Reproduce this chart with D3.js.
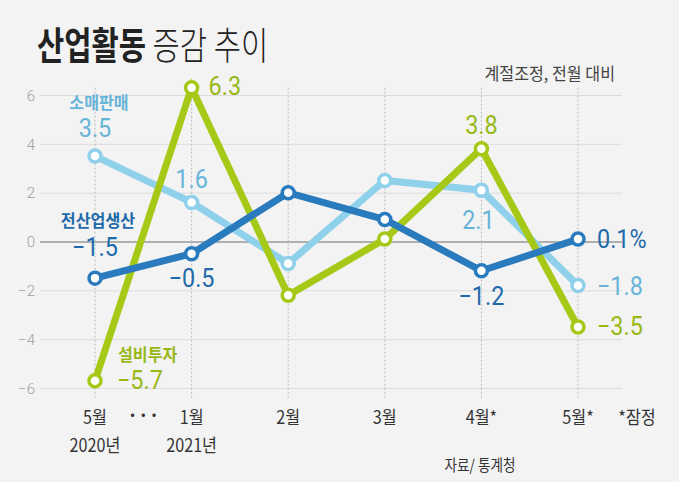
<!DOCTYPE html>
<html><head><meta charset="utf-8">
<script src="https://cdn.jsdelivr.net/npm/d3@7"></script>
<style>
body{margin:0;background:#f3f3f3;}
svg{display:block;font-family:"Noto Sans CJK KR","Noto Sans",sans-serif;}
</style></head><body>
<svg id="c" width="679" height="482"></svg>
<script>
const categories = ["5월|2020년","1월|2021년","2월","3월","4월*","5월*"];
const production = [-1.5, -0.5, 2.0, 0.9, -1.2, 0.1];
const retail = [3.5, 1.6, -0.9, 2.5, 2.1, -1.8];
const investment = [-5.7, 6.3, -2.2, 0.1, 3.8, -3.5];
const yTicks = [-6,-4,-2,0,2,4,6];

const svg = d3.select("#c");
svg.append("rect").attr("width",679).attr("height",482).attr("fill","#f3f3f3");

const x = d3.scalePoint().domain(d3.range(categories.length)).range([95,578]);
const y = d3.scaleLinear().domain([-6,6]).range([388,95]);

function txt(str,xx,yy,o){
  o=o||{};
  const sx=o.sx||1;
  const g=svg.append("g").attr("transform",`translate(${xx},${yy}) scale(${sx},1)`);
  const t=g.append("text").attr("x",0).attr("y",0).attr("text-anchor",o.anchor||"middle")
    .attr("font-size",o.size||16).attr("font-weight",o.weight||"400").attr("fill",o.fill||"#333")
    .attr("dy",o.dy||"0.35em");
  if(o.family) t.attr("font-family",o.family);
  t.text(str);
  return t;
}

// title
const tg = svg.append("g").attr("transform","translate(37,59) scale(0.78,1)");
const t = tg.append("text").attr("font-size",38).attr("fill","#222");
t.append("tspan").attr("font-weight","bold").text("산업활동");
t.append("tspan").attr("font-weight","300").text(" 증감 추이");
txt("계절조정, 전월 대비",615,74,{anchor:"end",size:17,sx:0.95,fill:"#444"});

// grid
const yAxis = svg.append("g").attr("transform","translate(40,0)")
  .call(d3.axisRight(y).tickValues(yTicks).tickSize(582).tickFormat(d=>String(d).replace("-","−")));
yAxis.select(".domain").remove();
yAxis.selectAll(".tick line").attr("stroke",d=>d===0?"#999":"#dcdcdc").attr("stroke-width",d=>d===0?1.5:1);
yAxis.selectAll(".tick text").attr("x",-5).attr("text-anchor","end").attr("fill","#a0a0a0")
  .attr("font-size",15).attr("font-family","Roboto").attr("font-weight","300").attr("dy","0.35em");

// vertical dotted
svg.append("g").selectAll("line").data(d3.range(categories.length)).join("line")
  .attr("x1",d=>x(d)).attr("x2",d=>x(d)).attr("y1",y(6.3)).attr("y2",398)
  .attr("stroke","#bbb").attr("stroke-dasharray","2,2").attr("stroke-width",1);

// x labels
categories.forEach((c,i)=>{
  c.split("|").forEach((p,j)=>{
    txt(p,x(i),418+j*28,{size:18,sx:0.9,fill:"#333",weight:"400"});
  });
});
txt("···",(x(0)+x(1))/2,416,{size:18,fill:"#333",weight:"bold"});
txt("*잠정",637,418,{size:18,sx:0.9,fill:"#333",weight:"400"});
txt("자료/ 통계청",480,465,{size:16,sx:0.85,fill:"#333"});

const series = [
  {vals: retail, color:"#8fd0ea"},
  {vals: investment, color:"#a6c918"},
  {vals: production, color:"#2a7bbd"}
];
const line = d3.line().x((d,i)=>x(i)).y(d=>y(d));
series.forEach(s=>{
  svg.append("path").datum(s.vals).attr("d",line).attr("fill","none").attr("stroke",s.color)
    .attr("stroke-width",7).attr("stroke-linejoin","miter");
  svg.append("g").selectAll("circle").data(s.vals).join("circle")
    .attr("cx",(d,i)=>x(i)).attr("cy",d=>y(d)).attr("r",6).attr("fill","#fff")
    .attr("stroke",s.color).attr("stroke-width",3.5);
});

// value labels
const fmt = v => (v<0?"−":"")+Math.abs(v).toFixed(1);
function lab(s,xx,yy,col,anchor){
  txt(s,xx,yy,{fill:col,anchor:anchor||"middle",size:26,family:"Roboto",weight:"400",sx:0.9});
}
function leg(s,xx,yy,col,anchor){
  txt(s,xx,yy,{fill:col,anchor:anchor||"middle",size:17,weight:"bold",sx:0.95});
}
const cR="#68b4d8", cP="#1e6aab", cI="#98b816";
leg("소매판매",x(0)+4,y(6)+8,cR);
lab(fmt(retail[0]),x(0),y(retail[0])-28,cR);
lab(fmt(retail[1]),x(1),y(retail[1])-24,cR);
lab(fmt(retail[4]),x(4)-3,y(retail[4])+30,cR);
lab(fmt(retail[5]),x(5)+19,y(retail[5]),cR,"start");
leg("전산업생산",x(0)+3,y(production[0])-57,cP);
lab(fmt(production[0]),x(0),y(production[0])-31,cP);
lab(fmt(production[1]),x(1),y(production[1])+24,cP);
lab(fmt(production[4]),x(4),y(production[4])+25,cP);
lab(fmt(production[5])+"%",x(5)+19,y(production[5]),cP,"start");
lab(fmt(investment[1]),x(1)+17,y(investment[1])-2,cI,"start");
lab(fmt(investment[4]),x(4),y(investment[4])-24,cI);
lab(fmt(investment[5]),x(5)+19,y(investment[5])-1,cI,"start");
leg("설비투자",x(0)+23,y(investment[0])-26,cI,"start");
lab(fmt(investment[0]),x(0)+22,y(investment[0])-1,cI,"start");
</script>
</body></html>
